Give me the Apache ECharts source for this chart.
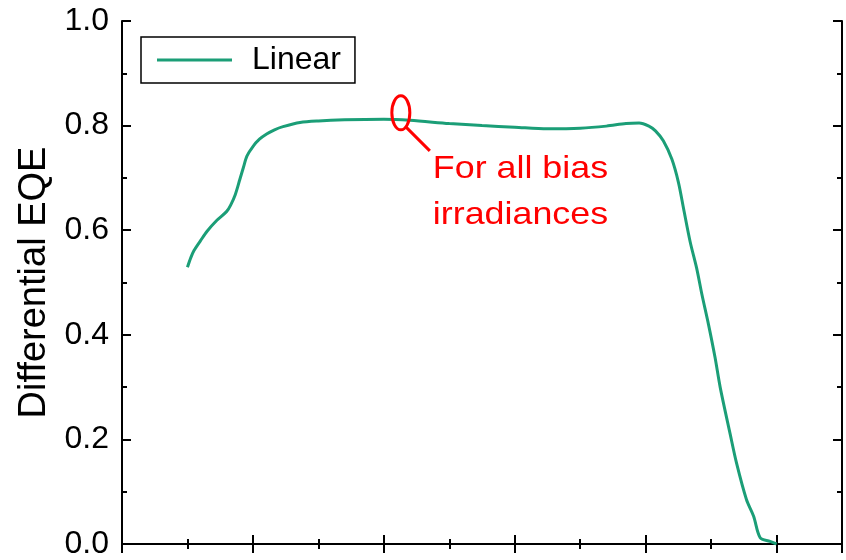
<!DOCTYPE html>
<html>
<head>
<meta charset="utf-8">
<title>Differential EQE</title>
<script src="https://cdn.jsdelivr.net/npm/echarts@6/dist/echarts.min.js"></script>
<style>
  html, body { margin: 0; padding: 0; background: #fff; }
  #chart { width: 846px; height: 560px; }
</style>
</head>
<body>
<div id="chart"></div>
<script>
// Wavelength (nm) and differential EQE of the linear-response measurement
const wavelength = [
  300, 305, 310, 320, 330, 345, 360, 366, 373, 380, 385, 391, 400, 410, 421, 433, 446, 472,
  500, 540, 600, 640, 700, 750, 800, 850, 900, 940, 970, 990, 1005, 1015, 1027, 1040,
  1050, 1058, 1068, 1078, 1086, 1096, 1106, 1114, 1129, 1139, 1154, 1165, 1175, 1190, 1200
];
const eqeLinear = [
  0.529, 0.547, 0.561, 0.580, 0.598, 0.619, 0.636, 0.648, 0.668, 0.697, 0.718, 0.742, 0.760, 0.774, 0.784, 0.792, 0.798, 0.806,
  0.809, 0.811, 0.812, 0.810, 0.804, 0.800, 0.797, 0.794, 0.795, 0.799, 0.804, 0.805, 0.799, 0.790, 0.771, 0.736,
  0.692, 0.641, 0.578, 0.527, 0.477, 0.420, 0.357, 0.299, 0.211, 0.154, 0.085, 0.053, 0.012, 0.005, 0.000
];
const seriesName = 'Linear';
const yTitle = 'Differential EQE';
const noteText = 'For all bias\nirradiances';
// point on the curve the note refers to
const notePoint = [626, 0.811];

const FONT = '"Liberation Sans", Arial, sans-serif';
const lineColor = '#1b9e77';

const chart = echarts.init(document.getElementById('chart'), null, { renderer: 'canvas' });

const baseX = {
  type: 'value', min: 200, max: 1300, interval: 200,
  axisLine: { show: true, lineStyle: { color: '#000', width: 2 } },
  axisTick: { show: true, inside: true, length: 9, lineStyle: { color: '#000', width: 2 } },
  minorTick: { show: true, splitNumber: 2, length: 5, lineStyle: { color: '#000', width: 2 } },
  axisLabel: { show: false },
  splitLine: { show: false }
};
const baseY = {
  type: 'value', min: 0, max: 1, interval: 0.2,
  axisLine: { show: true, lineStyle: { color: '#000', width: 2 } },
  axisTick: { show: true, inside: true, length: 9, lineStyle: { color: '#000', width: 2 } },
  minorTick: { show: true, splitNumber: 2, length: 5, lineStyle: { color: '#000', width: 2 } },
  splitLine: { show: false }
};

chart.setOption({
  animation: false,
  backgroundColor: '#fff',
  textStyle: { fontFamily: FONT },
  grid: { left: 122, right: 4, top: 21, bottom: 12, containLabel: false },
  legend: {
    left: 141, top: 37,
    orient: 'horizontal',
    backgroundColor: '#fff',
    borderColor: '#000', borderWidth: 1.5, borderRadius: 0,
    padding: [7, 14, 7, 16],
    icon: 'rect',
    itemWidth: 75, itemHeight: 3,
    textStyle: { fontFamily: FONT, fontSize: 32, color: '#000', padding: [0, 0, 0, 15] },
    data: [seriesName]
  },
  xAxis: [
    Object.assign({}, baseX, { position: 'bottom' }),
    Object.assign({}, baseX, { position: 'top' })
  ],
  yAxis: [
    Object.assign({}, baseY, {
      position: 'left',
      name: yTitle, nameLocation: 'middle', nameGap: 68, nameRotate: 90,
      nameTextStyle: { fontFamily: FONT, fontSize: 38, color: '#000' },
      axisLabel: {
        show: true, margin: 13, color: '#000', fontFamily: FONT, fontSize: 32,
        formatter: v => v.toFixed(1)
      }
    }),
    Object.assign({}, baseY, { position: 'right', axisLabel: { show: false } })
  ],
  series: [{
    name: seriesName,
    type: 'line',
    xAxisIndex: 0, yAxisIndex: 0,
    data: wavelength.map((w, i) => [w, eqeLinear[i]]),
    smooth: 0.3,
    symbol: 'none',
    lineStyle: { color: lineColor, width: 3 },
    itemStyle: { color: lineColor }
  }]
});

// annotation: ring around the curve with a leader to the note
const p = chart.convertToPixel({ xAxisIndex: 0, yAxisIndex: 0 }, notePoint);
const cx = p[0], cy = p[1] - 7;
chart.setOption({
  graphic: [
    {
      type: 'ellipse', z: 100,
      shape: { cx: cx, cy: cy, rx: 9, ry: 17 },
      style: { fill: 'none', stroke: '#ff0000', lineWidth: 3 }
    },
    {
      type: 'line', z: 100,
      shape: { x1: cx + 5, y1: cy + 14, x2: cx + 29, y2: cy + 38 },
      style: { stroke: '#ff0000', lineWidth: 3 }
    },
    {
      type: 'text', z: 100,
      x: cx + 32, y: cy + 33,
      scaleX: 1.12,
      style: {
        text: noteText, fill: '#ff0000',
        font: '32px ' + FONT, lineHeight: 46,
        textAlign: 'left', textVerticalAlign: 'top'
      }
    }
  ]
});
</script>
</body>
</html>
